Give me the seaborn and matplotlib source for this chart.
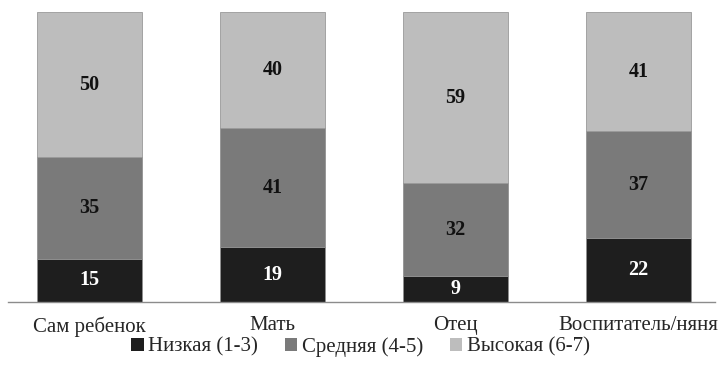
import matplotlib
matplotlib.use("Agg")
import matplotlib.pyplot as plt
import seaborn as sns
import pandas as pd
import numpy as np
from matplotlib.patches import Patch

categories = ["Сам ребенок", "Мать", "Отец", "Воспитатель/няня"]
low = [15, 19, 9, 22]
mid = [35, 41, 32, 37]
high = [50, 40, 59, 41]
series_names = ["Низкая (1-3)", "Средняя (4-5)", "Высокая (6-7)"]
colors = ["#1e1e1e", "#7a7a7a", "#bdbdbd"]
text_colors = ["white", "#111111", "#111111"]

sns.set_style("white")
plt.rcParams["font.family"] = ["Liberation Serif", "DejaVu Serif"]

fig = plt.figure(figsize=(7.21, 3.82), dpi=100)
ax = fig.add_axes([0.011, 0.209, 0.981, 0.7595])

layers = [np.array(low), np.array(mid), np.array(high)]
cum = np.cumsum(layers, axis=0)

# Draw cumulative totals from the top layer down so each segment shows
for i in [2, 1, 0]:
    df = pd.DataFrame({"cat": categories, "val": cum[i]})
    sns.barplot(data=df, x="cat", y="val", color=colors[i], width=0.575,
                saturation=1, edgecolor="#9a9a9a", linewidth=0.6, ax=ax,
                order=categories)

for i, layer in enumerate(layers):
    bottoms = cum[i] - layer
    for j, v in enumerate(layer):
        ax.text(j, bottoms[j] + v / 2, str(v), ha="center", va="center",
                fontsize=14.5, fontweight="bold", color=text_colors[i])

ax.set_xlim(-0.445, 3.42)
ax.set_ylim(0, 100)
ax.set_xlabel("")
ax.set_ylabel("")
ax.set_yticks([])
ax.tick_params(axis="x", length=0, labelsize=15, pad=10)
for s in ["top", "right", "left"]:
    ax.spines[s].set_visible(False)
ax.spines["bottom"].set_color("#8c8c8c")
ax.spines["bottom"].set_linewidth(1.0)

handles = [Patch(facecolor=c, edgecolor="none") for c in colors]
fig.legend(handles, series_names, loc="center", bbox_to_anchor=(0.5, 0.092),
           ncol=3, frameon=False, fontsize=15, handlelength=0.6,
           handleheight=0.6, handletextpad=0.2, columnspacing=1.3)

fig.savefig("out.png", dpi=100)
